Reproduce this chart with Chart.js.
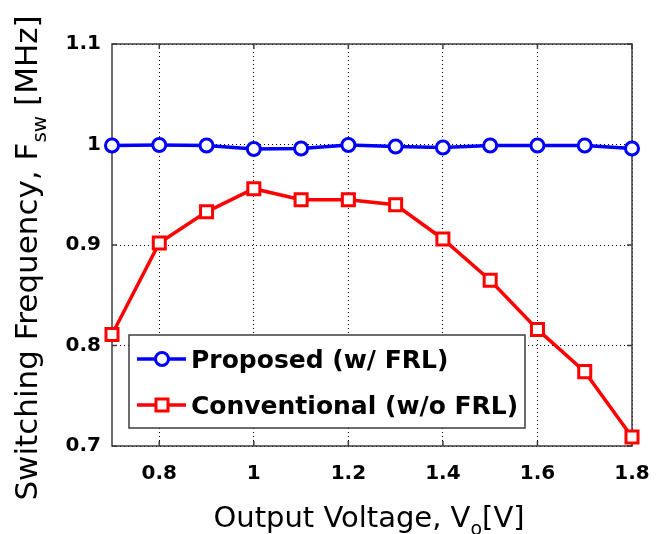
<!DOCTYPE html>
<html>
<head>
<meta charset="utf-8">
<script src="https://cdn.jsdelivr.net/npm/chart.js@4.4.1/dist/chart.umd.min.js"></script>
<style>
  html, body { margin: 0; padding: 0; background: #fff; }
  #wrap { width: 657px; height: 534px; }
</style>
</head>
<body>
<div id="wrap"><canvas id="c" width="657" height="534"></canvas></div>
<script>
// data
const voltages = [0.7, 0.8, 0.9, 1.0, 1.1, 1.2, 1.3, 1.4, 1.5, 1.6, 1.7, 1.8];
const proposedFsw = [0.999, 0.9995, 0.999, 0.9955, 0.996, 0.9995, 0.998, 0.997, 0.999, 0.999, 0.999, 0.996];
const conventionalFsw = [0.811, 0.902, 0.933, 0.956, 0.945, 0.945, 0.940, 0.906, 0.865, 0.816, 0.774, 0.709];
const xTicks = [0.8, 1.0, 1.2, 1.4, 1.6, 1.8];
const yTicks = [0.7, 0.8, 0.9, 1.0, 1.1];
const seriesNames = ["Proposed (w/ FRL)", "Conventional (w/o FRL)"];

const BLUE = "#0000ff";
const RED = "#ff0000";
const FRAME = "#3c3c3c";

const toPoints = (ys) => voltages.map((v, i) => ({ x: v, y: ys[i] }));
const fmt = (v) => String(+v.toFixed(1));

// draw text made of normal / subscript pieces, centred on cx at baseline baseY
function drawPieces(ctx, pieces, cx, baseY, size) {
  const subSize = Math.round(size * 0.65);
  let total = 0;
  pieces.forEach((p) => {
    ctx.font = (p.sub ? subSize : size) + "px 'DejaVu Sans'";
    p.w = ctx.measureText(p.t).width;
    total += p.w;
  });
  let x = cx - total / 2;
  ctx.textAlign = "left";
  ctx.textBaseline = "alphabetic";
  pieces.forEach((p) => {
    ctx.font = (p.sub ? subSize : size) + "px 'DejaVu Sans'";
    ctx.fillText(p.t, x, baseY + (p.sub ? size * 0.28 : 0));
    x += p.w;
  });
}

const framePlugin = {
  id: "frame",
  beforeDatasetsDraw(chart) {
    const { ctx, chartArea: a, scales } = chart;
    ctx.save();
    ctx.strokeStyle = FRAME;
    ctx.lineWidth = 1.5;
    ctx.beginPath();
    xTicks.forEach((v) => {
      const px = scales.x.getPixelForValue(v);
      ctx.moveTo(px, a.bottom); ctx.lineTo(px, a.bottom - 5);
      ctx.moveTo(px, a.top); ctx.lineTo(px, a.top + 5);
    });
    yTicks.forEach((v) => {
      const py = scales.y.getPixelForValue(v);
      ctx.moveTo(a.left, py); ctx.lineTo(a.left + 5, py);
      ctx.moveTo(a.right, py); ctx.lineTo(a.right - 5, py);
    });
    ctx.stroke();
    ctx.strokeRect(a.left, a.top, a.right - a.left, a.bottom - a.top);
    ctx.restore();
  },
  afterDraw(chart) {
    const { ctx } = chart;
    ctx.save();
    ctx.fillStyle = "#000";
    // x title
    drawPieces(ctx, [{ t: "Output Voltage, V" }, { t: "o", sub: true }, { t: "[V]" }], 369, 527, 29);
    // y title (rotated)
    ctx.translate(37, 258);
    ctx.rotate(-Math.PI / 2);
    drawPieces(ctx, [{ t: "Switching Frequency, F" }, { t: "sw", sub: true }, { t: " [MHz]" }], 0, 0, 31);
    ctx.restore();

    // legend box
    const box = { x: 129, y: 335, w: 396, h: 93 };
    ctx.save();
    ctx.fillStyle = "#fff";
    ctx.fillRect(box.x, box.y, box.w, box.h);
    ctx.strokeStyle = FRAME;
    ctx.lineWidth = 1.5;
    ctx.strokeRect(box.x, box.y, box.w, box.h);
    const rows = [359, 405];
    chart.data.datasets.forEach((ds, i) => {
      const yy = rows[i];
      ctx.strokeStyle = ds.borderColor;
      ctx.lineWidth = ds.borderWidth;
      ctx.beginPath();
      ctx.moveTo(137, yy); ctx.lineTo(186, yy);
      ctx.stroke();
      ctx.fillStyle = "#fff";
      ctx.lineWidth = ds.pointBorderWidth;
      ctx.beginPath();
      if (ds.pointStyle === "circle") {
        ctx.arc(162, yy, ds.pointRadius, 0, Math.PI * 2);
      } else {
        const s = ds.pointRadius * Math.SQRT1_2;
        ctx.rect(162 - s, yy - s, 2 * s, 2 * s);
      }
      ctx.fill();
      ctx.stroke();
      ctx.fillStyle = "#000";
      ctx.font = "bold 25px 'DejaVu Sans'";
      ctx.textAlign = "left";
      ctx.textBaseline = "alphabetic";
      ctx.fillText(ds.label, 191, yy + 9);
    });
    ctx.restore();
  },
};

const tickFont = { family: "'DejaVu Sans'", size: 20, weight: "bold" };

new Chart(document.getElementById("c"), {
  type: "line",
  data: {
    datasets: [
      {
        label: seriesNames[0],
        data: toPoints(proposedFsw),
        borderColor: BLUE,
        backgroundColor: "#fff",
        borderWidth: 3.5,
        pointStyle: "circle",
        pointRadius: 6.5,
        pointBorderWidth: 3,
        pointBackgroundColor: "#fff",
        pointBorderColor: BLUE,
        clip: false,
      },
      {
        label: seriesNames[1],
        data: toPoints(conventionalFsw),
        borderColor: RED,
        backgroundColor: "#fff",
        borderWidth: 3.5,
        pointStyle: "rect",
        pointRadius: 8.5,
        pointBorderWidth: 3,
        pointBackgroundColor: "#fff",
        pointBorderColor: RED,
        clip: false,
      },
    ],
  },
  options: {
    responsive: false,
    animation: false,
    devicePixelRatio: 1,
    layout: { padding: { top: 44, right: 25, left: 0, bottom: 0 } },
    plugins: { legend: { display: false }, tooltip: { enabled: false } },
    scales: {
      x: {
        type: "linear",
        min: 0.7,
        max: 1.8,
        afterBuildTicks: (s) => { s.ticks = xTicks.map((v) => ({ value: v })); },
        afterFit: (s) => { s.height = 88; s.paddingLeft = 0; s.paddingRight = 0; },
        ticks: { color: "#000", font: tickFont, padding: 16, maxRotation: 0, callback: (v) => fmt(v) },
        grid: { color: "#000", lineWidth: 1, drawTicks: false },
        border: { display: false, dash: [1, 3] },
      },
      y: {
        type: "linear",
        min: 0.7,
        max: 1.1,
        afterBuildTicks: (s) => { s.ticks = yTicks.map((v) => ({ value: v })); },
        afterFit: (s) => { s.width = 112; s.paddingTop = 0; s.paddingBottom = 0; },
        ticks: { color: "#000", font: tickFont, padding: 11, callback: (v) => fmt(v) },
        grid: { color: "#000", lineWidth: 1, drawTicks: false },
        border: { display: false, dash: [1, 3] },
      },
    },
  },
  plugins: [framePlugin],
});
</script>
</body>
</html>
